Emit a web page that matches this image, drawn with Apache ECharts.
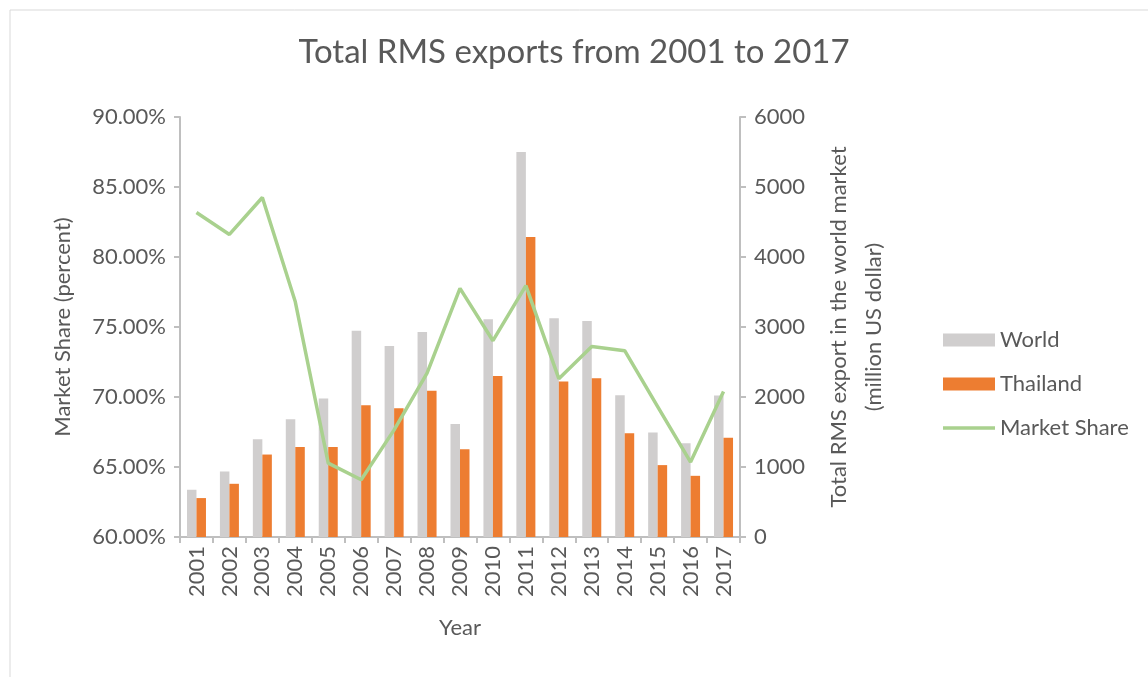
<!DOCTYPE html>
<html>
<head>
<meta charset="utf-8">
<script src="https://cdn.jsdelivr.net/npm/echarts@6/dist/echarts.min.js"></script>
<style>
  html, body { margin: 0; padding: 0; background: #fff; }
  #chart { width: 1148px; height: 677px; }
</style>
</head>
<body>
<div id="chart"></div>
<script>
/* ===== data ===== */
const years = ["2001", "2002", "2003", "2004", "2005", "2006", "2007", "2008", "2009",
  "2010", "2011", "2012", "2013", "2014", "2015", "2016", "2017"];
const world = [675, 936, 1398, 1683, 1977, 2947, 2729, 2929, 1616,
  3110, 5501, 3124, 3086, 2025, 1492, 1341, 2020];
const thailand = [556, 760, 1178, 1284, 1284, 1883, 1840, 2091, 1255,
  2301, 4284, 2220, 2268, 1483, 1027, 874, 1417];
const marketShare = [83.18, 81.61, 84.25, 76.8, 65.28, 64.09, 67.65, 71.7, 77.76,
  74.02, 77.95, 71.31, 73.6, 73.31, 69.32, 65.35, 70.39];

const textColor = "#595959";
const axisColor = "#BFBFBF";
const font = "Lato";
const fs = 22;

const chart = echarts.init(document.getElementById("chart"));

chart.setOption({
  textStyle: { fontFamily: font },
  title: {
    text: "Total RMS exports from 2001 to 2017",
    left: "center",
    top: 31,
    textStyle: { fontFamily: font, fontSize: 33, fontWeight: "normal", color: textColor },
  },
  // outer frame like the Excel chart area
  graphic: [
    {
      type: "rect",
      shape: { x: 10, y: 10, width: 1160, height: 700 },
      style: { fill: "none", stroke: "#D9D9D9", lineWidth: 1 },
      silent: true,
    },
  ],
  legend: {
    orient: "vertical",
    left: 938,
    top: 324,
    itemGap: 22,
    itemWidth: 52,
    itemHeight: 13,
    textStyle: { fontFamily: font, fontSize: fs, color: textColor },
    data: [
      { name: "World", icon: "rect" },
      { name: "Thailand", icon: "rect" },
      { name: "Market Share", icon: "path://M0,0 L52,0 L52,3.5 L0,3.5 Z" },
    ],
  },
  grid: { left: 180, right: 408, top: 117, bottom: 140 },
  xAxis: {
    type: "category",
    data: years,
    name: "Year",
    nameLocation: "middle",
    nameGap: 80,
    nameTextStyle: { fontSize: fs, color: textColor },
    axisLine: { lineStyle: { color: axisColor, width: 2 } },
    axisTick: { show: true, length: 6, lineStyle: { color: axisColor, width: 2 } },
    axisLabel: { rotate: 90, fontSize: fs, color: textColor, margin: 9 },
  },
  yAxis: [
    {
      type: "value",
      min: 60,
      max: 90,
      interval: 5,
      position: "left",
      name: "Market Share (percent)",
      nameLocation: "middle",
      nameRotate: 90,
      nameGap: 106,
      nameTextStyle: { fontSize: fs, color: textColor },
      axisLine: { show: true, lineStyle: { color: axisColor, width: 2 } },
      axisTick: { show: true, length: 6, lineStyle: { color: axisColor, width: 2 } },
      splitLine: { show: false },
      axisLabel: {
        fontSize: fs,
        color: textColor,
        margin: 14,
        formatter: (v) => v.toFixed(2) + "%",
      },
    },
    {
      type: "value",
      min: 0,
      max: 6000,
      interval: 1000,
      position: "right",
      name: "Total RMS export in the world market\n(million US dollar)",
      nameLocation: "middle",
      nameRotate: 90,
      nameGap: 81,
      nameTextStyle: { fontSize: fs, color: textColor, lineHeight: 35 },
      axisLine: { show: true, lineStyle: { color: axisColor, width: 2 } },
      axisTick: { show: true, length: 6, lineStyle: { color: axisColor, width: 2 } },
      splitLine: { show: false },
      axisLabel: { fontSize: fs, color: textColor, margin: 14, formatter: (v) => String(v) },
    },
  ],
  series: [
    {
      name: "World",
      type: "bar",
      yAxisIndex: 1,
      data: world,
      barWidth: 9.5,
      barGap: "0%",
      itemStyle: { color: "#D0CECE" },
    },
    {
      name: "Thailand",
      type: "bar",
      yAxisIndex: 1,
      data: thailand,
      barWidth: 9.5,
      itemStyle: { color: "#ED7D31" },
    },
    {
      name: "Market Share",
      type: "line",
      yAxisIndex: 0,
      data: marketShare,
      symbol: "none",
      lineStyle: { color: "#A9D18E", width: 3.5 },
      itemStyle: { color: "#A9D18E" },
      z: 5,
    },
  ],
});
</script>
</body>
</html>
